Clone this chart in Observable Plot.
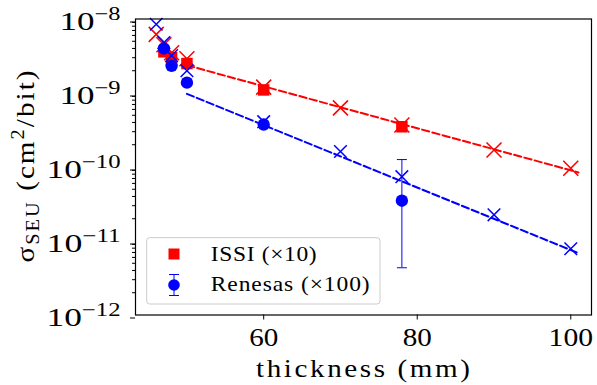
<!DOCTYPE html>
<html><head><meta charset="utf-8">
<script src="https://cdn.jsdelivr.net/npm/d3@7"></script>
<script src="https://cdn.jsdelivr.net/npm/@observablehq/plot@0.6"></script>
<style>
body{margin:0;background:#fff;color:#000;}
#chart svg{display:block;font-family:"Liberation Serif",serif !important;}
#chart svg text{font-family:"Liberation Serif",serif !important;}
</style>
</head><body><div id="chart"></div>
<script>
// ---- data ----
const simThickness = [46, 47, 48, 50, 60, 70, 78, 90, 100];
const issiSim = [6.2e-9, 4.5e-9, 3.5e-9, 2.9e-9, 1.2e-9, 6.3e-10, 3.7e-10, 1.7e-10, 9.6e-11];
const renesasSim = [8.5e-9, 4.8e-9, 3.2e-9, 2.0e-9, 4.1e-10, 1.62e-10, 7.4e-11, 2.26e-11, 7.85e-12];
const measThickness = [47, 48, 50, 60, 78];
const issiMeas = [3.6e-9, 3.0e-9, 2.5e-9, 1.1e-9, 3.5e-10];
const renesasMeas = [4.0e-9, 2.33e-9, 1.38e-9, 3.75e-10, 3.5e-11];
const renesasErrLow = [null, null, null, null, 4.35e-12];
const renesasErrHigh = [null, null, null, null, 1.26e-10];
const fitThickness = [50, 101];
const issiFit = [2.37e-9, 8.45e-11];
const renesasFit = [9.73e-10, 6.85e-12];
const xTicks = [60, 80, 100];
const yTickExps = [-12, -11, -10, -9, -8];
const legendLabels = ["ISSI (×10)", "Renesas (×100)"];
const xLabel = "thickness (mm)";
const yLabel = "σ_{SEU} (cm^{2}/bit)";

const RED = "#ff0000", BLUE = "#0000ff";
const FS = 26;

const yMajor = yTickExps.map(e => Math.pow(10, e));
const yMinor = [];
for (const e of yTickExps.slice(0, -1)) for (let k = 2; k <= 9; k++) yMinor.push(k * Math.pow(10, e));

const sim = simThickness.map((t, i) => ({t, issi: issiSim[i], ren: renesasSim[i]}));
const meas = measThickness.map((t, i) => ({t, issi: issiMeas[i], ren: renesasMeas[i], lo: renesasErrLow[i], hi: renesasErrHigh[i]}));
const errs = meas.filter(d => d.lo != null);
const fit = fitThickness.map((t, i) => ({t, issi: issiFit[i], ren: renesasFit[i]}));

const xSym = hw => ({draw(ctx) {ctx.moveTo(-hw, -hw); ctx.lineTo(hw, hw); ctx.moveTo(-hw, hw); ctx.lineTo(hw, -hw);}});
const capSym = hw => ({draw(ctx) {ctx.moveTo(-hw, 0); ctx.lineTo(hw, 0);}});
const sqSym = s => ({draw(ctx) {ctx.rect(-s / 2, -s / 2, s, s);}});

const plot = Plot.plot({
  width: 597, height: 385,
  marginLeft: 135, marginRight: 6, marginTop: 18.5, marginBottom: 70.5,
  style: {color: "#000", background: "#fff"},
  x: {domain: [43.3, 102.7]},
  y: {type: "log", domain: [1e-12, 1e-8]},
  marks: [
    Plot.axisX({ticks: xTicks, tickSize: 5, tickPadding: 7.5, fontSize: FS, label: null}),
    Plot.axisY({ticks: yMajor, tickSize: 5, tickPadding: 10, fontSize: FS, dy: 3, label: null,
      tickFormat: d => "10^{−" + Math.abs(Math.round(Math.log10(d))) + "}"}),
    Plot.axisY({ticks: yMinor, tickSize: 3, tickFormat: () => "", label: null}),
    Plot.line(fit, {x: "t", y: "issi", stroke: RED, strokeWidth: 2, strokeDasharray: "7.4,3.2"}),
    Plot.line(fit, {x: "t", y: "ren", stroke: BLUE, strokeWidth: 2, strokeDasharray: "7.4,3.2"}),
    Plot.dot(sim, {x: "t", y: "issi", symbol: xSym(7.5), stroke: RED, fill: "none", strokeWidth: 1.5}),
    Plot.dot(meas, {x: "t", y: "issi", symbol: sqSym(11.5), fill: RED, stroke: "none"}),
    Plot.dot(sim, {x: "t", y: "ren", symbol: xSym(6.3), stroke: BLUE, fill: "none", strokeWidth: 1.5}),
    Plot.ruleX(errs, {x: "t", y1: "lo", y2: "hi", stroke: BLUE, strokeWidth: 1}),
    Plot.dot(errs, {x: "t", y: "lo", symbol: capSym(5), stroke: BLUE, strokeWidth: 1}),
    Plot.dot(errs, {x: "t", y: "hi", symbol: capSym(5), stroke: BLUE, strokeWidth: 1}),
    Plot.dot(meas, {x: "t", y: "ren", r: 6.2, fill: BLUE, stroke: "none"}),
    Plot.frame({stroke: "#000", strokeWidth: 1.2})
  ]
});
document.getElementById("chart").appendChild(plot);

const NS = "http://www.w3.org/2000/svg";
function richText(el, base) {
  const s = el.textContent;
  if (!/[\^_]\{/.test(s)) return;
  const re = /([\^_])\{([^}]*)\}/g;
  const parts = []; let last = 0, m;
  while ((m = re.exec(s))) {
    if (m.index > last) parts.push({t: s.slice(last, m.index), k: ""});
    parts.push({t: m[2], k: m[1]}); last = re.lastIndex;
  }
  if (last < s.length) parts.push({t: s.slice(last), k: ""});
  el.textContent = "";
  let shift = 0;
  for (const p of parts) {
    const ts = document.createElementNS(NS, "tspan");
    const target = p.k === "^" ? -0.4 * base : p.k === "_" ? 0.2 * base : 0;
    ts.setAttribute("dy", target - shift); shift = target;
    if (p.k) ts.setAttribute("font-size", 0.7 * base);
    ts.textContent = p.t;
    el.appendChild(ts);
  }
}
function stretch(el, len) {
  el.setAttribute("textLength", len);
  el.setAttribute("lengthAdjust", "spacingAndGlyphs");
}
// positioned text (transform only): glyph widening capped, rest by spacing
function fitText(el, target, maxScale) {
  const natural = el.getComputedTextLength();
  const s = Math.max(1, Math.min(target / natural, maxScale));
  el.setAttribute("transform", (el.getAttribute("transform") || "") + ` scale(${s},1)`);
  el.setAttribute("textLength", target / s);
  el.setAttribute("lengthAdjust", "spacing");
}
const svg = d3.select(plot);
svg.select('[aria-label="y-axis tick label"]').selectAll("text").each(function() {
  const s = this.textContent;
  const digits = (s.match(/\{−(\d+)\}/) || ["", "0"])[1].length;
  richText(this, FS);
  stretch(this, digits === 1 ? 61 : 74);
});
svg.select('[aria-label="x-axis tick label"]').selectAll("text").each(function() {
  const n = this.textContent.length;
  stretch(this, n * 15.3 - 1.5);
});

// axis labels
const xl = svg.append("text").attr("transform", "translate(363,377)").attr("text-anchor", "middle")
  .attr("font-size", FS).attr("fill", "#000").text(xLabel);
fitText(xl.node(), 214, 1.12);
const yl = svg.append("text").attr("transform", "translate(34,166.5) rotate(-90)").attr("text-anchor", "middle")
  .attr("font-size", FS).attr("fill", "#000").text(yLabel);
richText(yl.node(), FS);
fitText(yl.node(), 192, 1.12);

// legend
const lg = svg.append("g").attr("text-anchor", "start");
lg.append("rect").attr("x", 146.7).attr("y", 237.7).attr("width", 233.3).attr("height", 66.3).attr("rx", 3)
  .attr("fill", "#fff").attr("fill-opacity", 0.8).attr("stroke", "#cccccc").attr("stroke-width", 1);
lg.append("rect").attr("x", 174 - 5.5).attr("y", 254 - 5.5).attr("width", 11).attr("height", 11).attr("fill", RED);
lg.append("line").attr("x1", 174).attr("x2", 174).attr("y1", 274.5).attr("y2", 295.5).attr("stroke", BLUE);
lg.append("line").attr("x1", 169).attr("x2", 179).attr("y1", 274.5).attr("y2", 274.5).attr("stroke", BLUE);
lg.append("line").attr("x1", 169).attr("x2", 179).attr("y1", 295.5).attr("y2", 295.5).attr("stroke", BLUE);
lg.append("circle").attr("cx", 174).attr("cy", 285).attr("r", 5.8).attr("fill", BLUE);
const t1 = lg.append("text").attr("transform", "translate(210.7,261)").attr("text-anchor", "start").attr("font-size", 21).attr("fill", "#000").text(legendLabels[0]);
const t2 = lg.append("text").attr("transform", "translate(210.7,291)").attr("text-anchor", "start").attr("font-size", 21).attr("fill", "#000").text(legendLabels[1]);
fitText(t1.node(), 106, 1.12);
fitText(t2.node(), 159, 1.12);
</script>
</body></html>
